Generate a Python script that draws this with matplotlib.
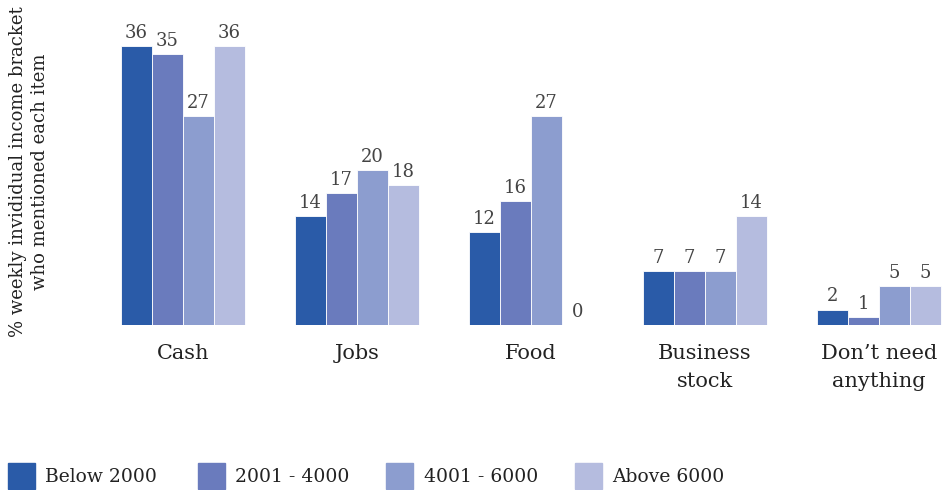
import numpy as np
import matplotlib.pyplot as plt
from matplotlib.patches import Rectangle

categories = ["Cash", "Jobs", "Food", "Business\nstock", "Don\u2019t need\nanything"]
brackets = ["Below 2000", "2001 - 4000", "4001 - 6000", "Above 6000"]
below_2000 = [36, 14, 12, 7, 2]
from_2001_4000 = [35, 17, 16, 7, 1]
from_4001_6000 = [27, 20, 27, 7, 5]
above_6000 = [36, 18, 0, 14, 5]
series = [below_2000, from_2001_4000, from_4001_6000, above_6000]
colors = ["#2a5ba8", "#6a7bbd", "#8c9dcf", "#b5bcdf"]

plt.rcParams['font.family'] = ['DejaVu Serif']

W, H = 943, 490
fig = plt.figure(figsize=(W / 100, H / 100), dpi=100)

# axes placed in pixels: baseline at y=325, bars run to the right edge
ax_left, ax_right = 110, 943
base_px = 325
ax = fig.add_axes([ax_left / W, (H - base_px) / H, (ax_right - ax_left) / W, base_px / H])
group_px = 174.0
first_center = 183.0
ax.set_xlim((ax_left - first_center) / group_px, (ax_right - first_center) / group_px)
ax.set_ylim(0, base_px / 7.75)
ax.axis('off')

x = np.arange(len(categories))
width = 31 / group_px
for i, (vals, col) in enumerate(zip(series, colors)):
    pos = x + (i - 1.5) * width
    bars = ax.bar(pos, vals, width, color=col, edgecolor='white', linewidth=0.6)
    for b, v in zip(bars, vals):
        ax.annotate(str(v), (b.get_x() + b.get_width() / 2, v), xytext=(0, 3),
                    textcoords='offset points', ha='center', va='bottom',
                    fontsize=13, color='#444444')

for xi, cat in zip(x, categories):
    ax.text(xi, -2.5, cat, ha='center', va='top', fontsize=15, color='#222222',
            linespacing=1.6)

fig.text(29 / W, 1 - 172 / H, "% weekly invididual income bracket\nwho mentioned each item",
         rotation=90, ha='center', va='center', fontsize=13, color='#222222',
         linespacing=1.3)

# legend drawn by hand along the bottom
leg_sq = [8, 198, 386, 575]
leg_txt = [45, 235, 424, 612]
for sx, tx, lab, col in zip(leg_sq, leg_txt, brackets, colors):
    fig.add_artist(Rectangle((sx / W, 1 - 489 / H), 27 / W, 26 / H,
                             transform=fig.transFigure, color=col))
    fig.text(tx / W, 1 - 477 / H, lab, ha='left', va='center', fontsize=13.5,
             color='#222222')

fig.savefig("out.png", dpi=100)
